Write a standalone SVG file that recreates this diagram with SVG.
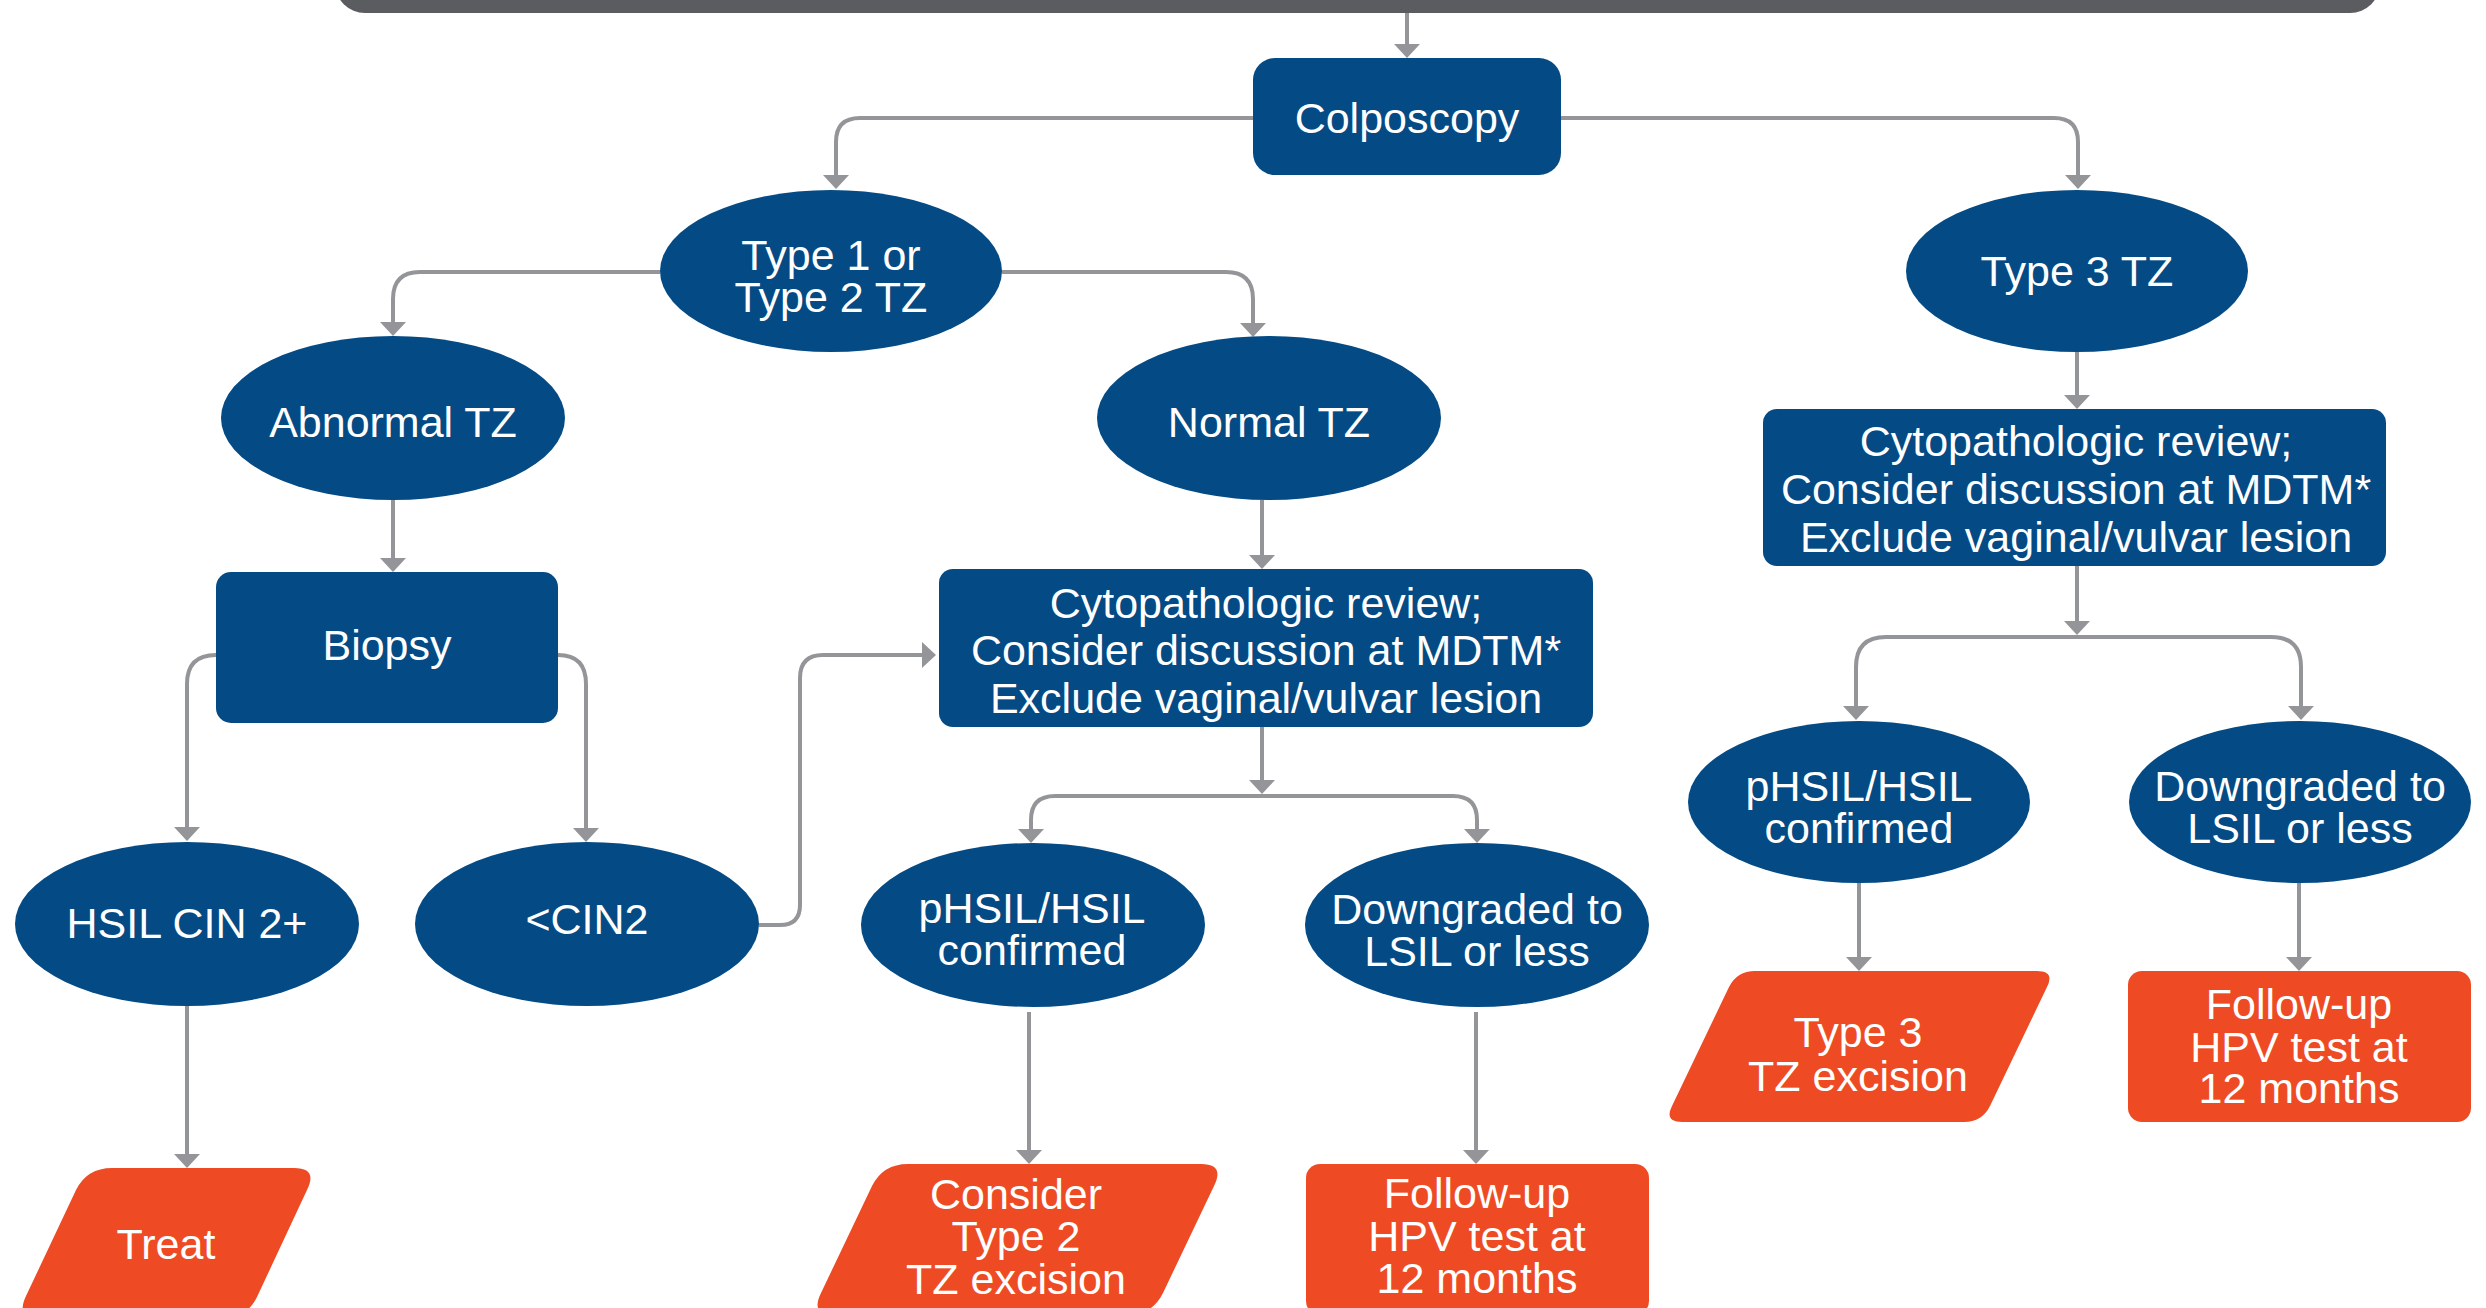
<svg xmlns="http://www.w3.org/2000/svg" width="2486" height="1308" viewBox="0 0 2486 1308">
  <style>
    .blue { fill: #044a84; }
    .orange { fill: #ee4b24; }
    .bar { fill: #5b5c5f; }
    .lbl { font-family: "Liberation Sans", Arial, Helvetica, sans-serif; font-size: 43px; fill: #ffffff; text-anchor: middle; }
    .conn { fill: none; stroke: #949599; stroke-width: 4; marker-end: url(#arrow); }
    .plain { fill: none; stroke: #949599; stroke-width: 4; }
  </style>
  <defs>
    <marker id="arrow" viewBox="0 0 14 26" markerUnits="userSpaceOnUse" markerWidth="14" markerHeight="26" refX="2" refY="13" orient="auto">
      <path d="M0,0 L14,13 L0,26 Z" fill="#949599"/>
    </marker>
  </defs>

  <rect width="2486" height="1308" fill="#ffffff"/>

  <!-- connectors -->
  <g id="connectors">
    <path class="conn" d="M1407,13 V46"/>
    <path class="conn" d="M1253,118 H860 Q836,118 836,142 V177"/>
    <path class="conn" d="M1561,118 H2054 Q2078,118 2078,142 V177"/>
    <path class="conn" d="M660,272 H420 Q393,272 393,299 V324"/>
    <path class="conn" d="M1002,272 H1226 Q1253,272 1253,299 V325"/>
    <path class="conn" d="M2077,352 V397"/>
    <path class="conn" d="M393,500 V560"/>
    <path class="conn" d="M1262,500 V557"/>
    <path class="conn" d="M216,655 Q187,655 187,684 V829"/>
    <path class="conn" d="M558,655 Q586,655 586,684 V830"/>
    <path class="conn" d="M759,925 H780 Q800,925 800,905 V678 Q800,655 823,655 H924"/>
    <path class="conn" d="M1262,727 V782"/>
    <path class="conn" d="M1262,796 H1055 Q1031,796 1031,820 V831"/>
    <path class="conn" d="M1262,796 H1453 Q1477,796 1477,820 V831"/>
    <path class="conn" d="M2077,566 V623"/>
    <path class="conn" d="M2077,637 H1886 Q1856,637 1856,667 V708"/>
    <path class="conn" d="M2077,637 H2271 Q2301,637 2301,667 V708"/>
    <path class="conn" d="M187,1006 V1156"/>
    <path class="conn" d="M1029,1012 V1152"/>
    <path class="conn" d="M1476,1012 V1152"/>
    <path class="conn" d="M1859,883 V959"/>
    <path class="conn" d="M2299,883 V959"/>
  </g>

  <!-- header band, running off the top edge -->
  <g id="header">
    <rect class="bar" x="335" y="-60" width="2045" height="73" rx="30"/>
  </g>

  <g id="colposcopy">
    <rect class="blue" x="1253" y="58" width="308" height="117" rx="22"/>
    <text class="lbl" x="1407" y="133">Colposcopy</text>
  </g>

  <g id="type12tz">
    <ellipse class="blue" cx="831" cy="271" rx="171" ry="81"/>
    <text class="lbl" x="831" y="270">Type 1 or</text>
    <text class="lbl" x="831" y="312">Type 2 TZ</text>
  </g>

  <g id="type3tz">
    <ellipse class="blue" cx="2077" cy="271" rx="171" ry="81"/>
    <text class="lbl" x="2077" y="286">Type 3 TZ</text>
  </g>

  <g id="abnormal-tz">
    <ellipse class="blue" cx="393" cy="418" rx="172" ry="82"/>
    <text class="lbl" x="393" y="437">Abnormal TZ</text>
  </g>

  <g id="normal-tz">
    <ellipse class="blue" cx="1269" cy="418" rx="172" ry="82"/>
    <text class="lbl" x="1269" y="437">Normal TZ</text>
  </g>

  <g id="biopsy">
    <rect class="blue" x="216" y="572" width="342" height="151" rx="15"/>
    <text class="lbl" x="387" y="660">Biopsy</text>
  </g>

  <g id="review-mid">
    <rect class="blue" x="939" y="569" width="654" height="158" rx="14"/>
    <text class="lbl" x="1266" y="618">Cytopathologic review;</text>
    <text class="lbl" x="1266" y="665">Consider discussion at MDTM*</text>
    <text class="lbl" x="1266" y="713">Exclude vaginal/vulvar lesion</text>
  </g>

  <g id="review-right">
    <rect class="blue" x="1763" y="409" width="623" height="157" rx="14"/>
    <text class="lbl" x="2076" y="456">Cytopathologic review;</text>
    <text class="lbl" x="2076" y="504">Consider discussion at MDTM*</text>
    <text class="lbl" x="2076" y="552">Exclude vaginal/vulvar lesion</text>
  </g>

  <g id="hsil-cin2">
    <ellipse class="blue" cx="187" cy="924" rx="172" ry="82"/>
    <text class="lbl" x="187" y="938">HSIL CIN 2+</text>
  </g>

  <g id="lt-cin2">
    <ellipse class="blue" cx="587" cy="924" rx="172" ry="82"/>
    <text class="lbl" x="587" y="934">&lt;CIN2</text>
  </g>

  <g id="phsil-mid">
    <ellipse class="blue" cx="1033" cy="925" rx="172" ry="82"/>
    <text class="lbl" x="1032" y="923">pHSIL/HSIL</text>
    <text class="lbl" x="1032" y="965">confirmed</text>
  </g>

  <g id="downgraded-mid">
    <ellipse class="blue" cx="1477" cy="925" rx="172" ry="82"/>
    <text class="lbl" x="1477" y="924">Downgraded to</text>
    <text class="lbl" x="1477" y="966">LSIL or less</text>
  </g>

  <g id="phsil-right">
    <ellipse class="blue" cx="1859" cy="802" rx="171" ry="81"/>
    <text class="lbl" x="1859" y="801">pHSIL/HSIL</text>
    <text class="lbl" x="1859" y="843">confirmed</text>
  </g>

  <g id="downgraded-right">
    <ellipse class="blue" cx="2300" cy="802" rx="171" ry="81"/>
    <text class="lbl" x="2300" y="801">Downgraded to</text>
    <text class="lbl" x="2300" y="843">LSIL or less</text>
  </g>

  <g id="treat">
    <path class="orange" d="M112,1168 H294 Q318,1168 307,1190 L257,1297 Q246,1319 222,1319 H40 Q15,1319 26,1296 L76,1190 Q87,1168 112,1168 Z"/>
    <text class="lbl" x="166" y="1259">Treat</text>
  </g>

  <g id="consider-type2">
    <path class="orange" d="M908,1164 H1201 Q1225,1164 1214,1186 L1163,1293 Q1152,1315 1128,1315 H834 Q810,1315 821,1293 L872,1186 Q883,1164 908,1164 Z"/>
    <text class="lbl" x="1016" y="1209">Consider</text>
    <text class="lbl" x="1016" y="1251">Type 2</text>
    <text class="lbl" x="1016" y="1294">TZ excision</text>
  </g>

  <g id="followup-mid">
    <rect class="orange" x="1306" y="1164" width="343" height="151" rx="14"/>
    <text class="lbl" x="1477" y="1208">Follow-up</text>
    <text class="lbl" x="1477" y="1251">HPV test at</text>
    <text class="lbl" x="1477" y="1293">12 months</text>
  </g>

  <g id="type3-excision">
    <path class="orange" d="M1755,971 H2037 Q2055,971 2047,987 L1990,1106 Q1982,1122 1964,1122 H1682 Q1664,1122 1672,1106 L1729,987 Q1737,971 1755,971 Z"/>
    <text class="lbl" x="1858" y="1047">Type 3</text>
    <text class="lbl" x="1858" y="1091">TZ excision</text>
  </g>

  <g id="followup-right">
    <rect class="orange" x="2128" y="971" width="343" height="151" rx="14"/>
    <text class="lbl" x="2299" y="1019">Follow-up</text>
    <text class="lbl" x="2299" y="1062">HPV test at</text>
    <text class="lbl" x="2299" y="1103">12 months</text>
  </g>
</svg>
